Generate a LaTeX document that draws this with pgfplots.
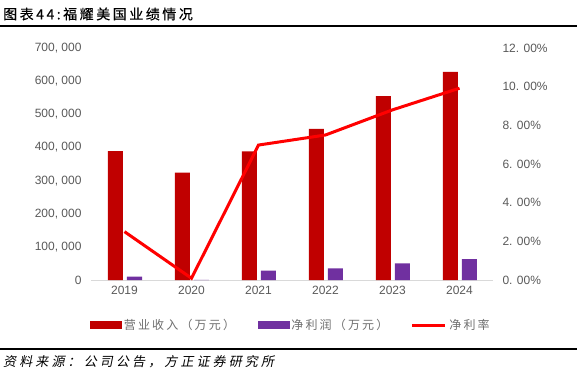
\documentclass[border=0pt]{standalone}
\usepackage{pgfplots}
\pgfplotsset{compat=1.18}
\usepackage{fontspec}
\setmainfont{Liberation Sans}
\newfontfamily\cjk{Noto Sans CJK SC}
\newfontfamily\cjktitle{Noto Sans CJK SC}[LetterSpace=18, FakeBold=0.4]
\newfontfamily\cjkls{Noto Sans CJK SC}[LetterSpace=18]
\newfontfamily\cjkit{Noto Sans CJK SC}[FakeSlant=0.2, LetterSpace=24]
\definecolor{rev}{HTML}{C00000}
\definecolor{np}{HTML}{7030A0}
\definecolor{lbl}{HTML}{595959}
\definecolor{lgd}{HTML}{6E6E6E}
\begin{document}
\begin{tikzpicture}
\path[use as bounding box] (0bp,0bp) rectangle (585bp,-375bp);
\node[anchor=west, inner sep=0] at (3bp,-14bp) {\fontsize{14bp}{16bp}\cjktitle 图表44:福耀美国业绩情况};
\draw[line width=2.2bp] (0bp,-26bp) -- (577bp,-26bp);
\draw[line width=2.2bp] (0bp,-349bp) -- (577bp,-349bp);
\node[anchor=west, inner sep=0] at (3bp,-362bp) {\fontsize{13bp}{15bp}\cjkit 资料来源：公司公告，方正证券研究所};

\begin{axis}[
  at={(91bp,-280bp)}, anchor=south west,
  width=402bp, height=232bp, scale only axis,
  xmin=-0.5, xmax=5.5, ymin=0, ymax=700000,
  axis x line*=bottom, axis y line*=left,
  x axis line style={-, draw=black!15, line width=0.8bp},
  y axis line style={draw=none},
  major tick length=0,
  xtick={0,1,2,3,4,5},
  xticklabels={2019,2020,2021,2022,2023,2024},
  ytick={0,100000,200000,300000,400000,500000,600000,700000},
  yticklabels={0,{100, 000},{200, 000},{300, 000},{400, 000},{500, 000},{600, 000},{700, 000}},
  scaled y ticks=false,
  tick label style={font=\fontsize{12bp}{14bp}\selectfont, text=lbl},
  yticklabel style={xshift=-6bp},
  xticklabel style={yshift=-3bp},
  ybar, bar width=15bp,
  clip=false,
]
\addplot[fill=rev, draw=none, bar shift=-9bp] coordinates {(0,389000) (1,324000) (2,388000) (3,456000) (4,555000) (5,628000)};
\addplot[fill=np, draw=none, bar shift=10bp] coordinates {(0,10000) (1,300) (2,28000) (3,35000) (4,50000) (5,63000)};
\end{axis}

\begin{axis}[
  at={(91bp,-280bp)}, anchor=south west,
  width=402bp, height=232bp, scale only axis,
  xmin=-0.5, xmax=5.5, ymin=0, ymax=12,
  axis x line=none, axis y line*=right,
  y axis line style={draw=none},
  major tick length=0,
  ytick={0,2,4,6,8,10,12},
  yticklabels={{0. 00\%},{2. 00\%},{4. 00\%},{6. 00\%},{8. 00\%},{10. 00\%},{12. 00\%}},
  tick label style={font=\fontsize{12bp}{14bp}\selectfont, text=lbl},
  yticklabel style={xshift=6bp},
  clip=false,
  legend columns=3,
  legend style={draw=none, fill=none, inner sep=0pt, outer sep=0pt,
    at={(-0.0025,-0.194)}, anchor=west,
    font=\fontsize{12bp}{14bp}\cjkls, text=lgd,
    nodes={inner xsep=2.5bp, inner ysep=0pt},
    /tikz/every even column/.append style={column sep=20bp}},
]
\addlegendimage{legend image code/.code={\fill[rev] (0bp,-3.5bp) rectangle (31bp,3.5bp);}}
\addlegendentry{营业收入（万元）}
\addlegendimage{legend image code/.code={\fill[np] (0bp,-3.5bp) rectangle (31bp,3.5bp);}}
\addlegendentry{净利润（万元）}
\addplot[color=red, line width=3bp, mark=none,
  legend image code/.code={\draw[red, line width=3bp] (0bp,0bp) -- (33bp,0bp);}]
  coordinates {(0,2.5) (1,0.09) (2,6.98) (3,7.5) (4,8.8) (5,9.92)};
\addlegendentry{净利率}
\end{axis}
\end{tikzpicture}
\end{document}
